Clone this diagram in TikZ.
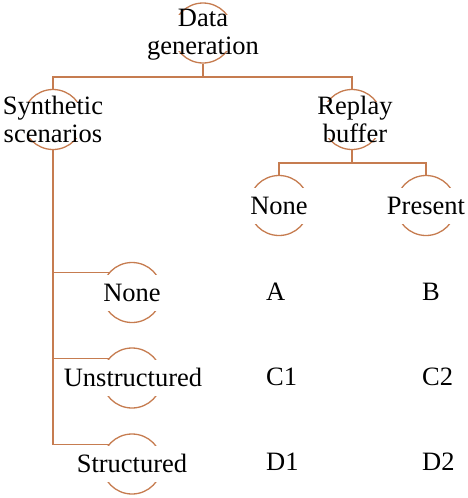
\documentclass[tikz,border=0pt]{standalone}
\usepackage{fontspec}
\setmainfont{Liberation Serif}
\definecolor{br}{RGB}{198,124,80}
\begin{document}
\begin{tikzpicture}[x=1pt,y=-1pt,
 ring/.style={circle,draw=br,line width=1.3pt,minimum size=60pt,inner sep=0pt},
 mask/.style={fill=white,inner sep=0pt,minimum width=64pt,minimum height=36pt},
 lbl/.style={inner sep=0pt,font=\fontsize{26.5}{28}\selectfont,align=center},
 cell/.style={inner sep=0pt,font=\fontsize{26.5}{28}\selectfont,anchor=base west},
 conn/.style={draw=br,line width=1.3pt}]
\useasboundingbox (0,0) rectangle (468,498);
% rings
\node[ring] (dg) at (203,33) {};
\node[ring] (syn) at (53,119.5) {};
\node[ring] (rb) at (352,119.5) {};
\node[ring] (rn) at (279,205.5) {};
\node[ring] (rp) at (426,205.5) {};
\node[ring] (sn) at (132,292.5) {};
\node[ring] (su) at (132,378) {};
\node[ring] (ss) at (132,464) {};
% masks
\node[mask] (dgm) at (dg) {};
\node[mask] (synm) at (syn) {};
\node[mask] (rbm) at (rb) {};
\node[mask] (rnm) at (rn) {};
\node[mask] (rpm) at (rp) {};
\node[mask] (snm) at (sn) {};
\node[mask] (sum) at (su) {};
\node[mask] (ssm) at (ss) {};
% labels
\node[lbl] (dgl) at (203,35) {Data\\generation};
\node[lbl] (synl) at (53,119.5) {Synthetic\\scenarios};
\node[lbl] (rbl) at (355,119.5) {Replay\\buffer};
\node[lbl,anchor=base] (rnl) at (279,214) {None};
\node[lbl,anchor=base] (rpl) at (426,214) {Present};
\node[lbl,anchor=base] (snl) at (132,301) {None};
\node[lbl,anchor=base] (sul) at (133,386.5) {Unstructured};
\node[lbl,anchor=base] (ssl) at (132,472.5) {Structured};
% cells
\node[cell] (A) at (266,300) {A};
\node[cell] (B) at (422,300) {B};
\node[cell] (C1) at (266,385) {C1};
\node[cell] (C2) at (422,385) {C2};
\node[cell] (D1) at (266,470.5) {D1};
\node[cell] (D2) at (422,470.5) {D2};
% connectors
\coordinate (j1) at (203,77);
\coordinate (j2) at (352,163);
\draw[conn] (dg.south) -- (j1);
\draw[conn] (syn.north) |- (j1) -| (rb.north);
\draw[conn] (rb.south) -- (j2);
\draw[conn] (rn.north) |- (j2) -| (rp.north);
\draw[conn] (syn.south) -- (syn.south |- ss.140) -- (ss.140);
\draw[conn] (syn.south |- sn.140) -- (sn.140);
\draw[conn] (syn.south |- su.140) -- (su.140);
\end{tikzpicture}
\end{document}
